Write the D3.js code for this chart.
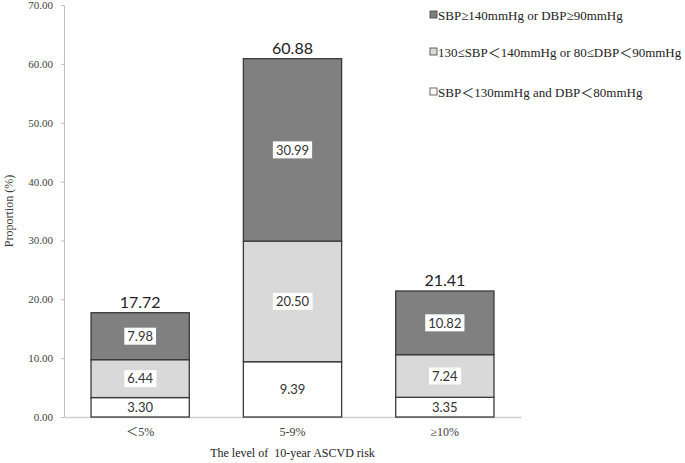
<!DOCTYPE html>
<html><head><meta charset="utf-8">
<script src="https://cdn.jsdelivr.net/npm/d3@7"></script>
<style>body{margin:0;background:#fff}svg{display:block}</style>
</head><body>
<svg id="c" width="685" height="463"></svg>
<script>
const categories = ["<5%", "5-9%", "\u226510%"];
const categoryLabels = ["\uFF1C5%", "5-9%", "\u226510%"];
const normal = [3.30, 9.39, 3.35];
const elevated = [6.44, 20.50, 7.24];
const high = [7.98, 30.99, 10.82];
const totals = [17.72, 60.88, 21.41];
const seriesNames = ["SBP\u2265140mmHg or DBP\u226590mmHg", "130\u2264SBP\uFF1C140mmHg or 80\u2264DBP\uFF1C90mmHg", "SBP\uFF1C130mmHg and DBP\uFF1C80mmHg"];
const yTicks = [0, 10, 20, 30, 40, 50, 60, 70];

const svg = d3.select("#c");
const serif = "'Liberation Serif','Noto Sans CJK SC',serif";
const sans = "Lato,'Open Sans',sans-serif";
const x0 = 64, x1 = 521, yb = 417, yt = 5;
const x = d3.scaleBand().domain(categories).range([x0, x1]).paddingInner(0.355).paddingOuter(0.1775);
const y = d3.scaleLinear().domain([0, 70]).range([yb, yt]);

const rows = categories.map((c, i) => ({c, segs: [
  {k: 0, v0: 0, v1: normal[i], v: normal[i], fill: "#ffffff"},
  {k: 1, v0: normal[i], v1: normal[i] + elevated[i], v: elevated[i], fill: "#d9d9d9"},
  {k: 2, v0: normal[i] + elevated[i], v1: normal[i] + elevated[i] + high[i], v: high[i], fill: "#808080"}
], total: totals[i]}));

// y axis
const ya = svg.append("g").attr("transform", `translate(${x0},0)`)
  .call(d3.axisLeft(y).tickValues(yTicks).tickFormat(d3.format(".2f")).tickSize(3).tickSizeOuter(0));
ya.select(".domain").attr("stroke", "#bfbfbf");
ya.selectAll(".tick line").attr("stroke", "#bfbfbf");
ya.selectAll(".tick text").attr("font-family", serif).attr("font-size", 11).attr("fill", "#404040").attr("x", -11);

// x axis
const xa = svg.append("g").attr("transform", `translate(0,${yb})`)
  .call(d3.axisBottom(x).tickSize(0).tickSizeOuter(0).tickFormat((d, i) => categoryLabels[i]));
xa.select(".domain").attr("stroke", "#d0d0d0").attr("stroke-width", 1.5);
xa.selectAll(".tick text").attr("font-family", serif).attr("font-size", 12).attr("fill", "#404040").attr("dy", 0).attr("y", 19);

// bars
const g = svg.append("g");
rows.forEach(r => {
  r.segs.forEach(s => {
    g.append("rect").attr("x", x(r.c)).attr("width", x.bandwidth())
      .attr("y", y(s.v1)).attr("height", y(s.v0) - y(s.v1))
      .attr("fill", s.fill).attr("stroke", "#3a3a3a").attr("stroke-width", 1.3);
  });
});
// labels
rows.forEach(r => {
  const cx = x(r.c) + x.bandwidth() / 2;
  r.segs.forEach(s => {
    const cy = (y(s.v0) + y(s.v1)) / 2;
    const t = g.append("text").attr("x", cx).attr("y", cy).attr("dy", "0.36em")
      .attr("text-anchor", "middle").attr("font-family", sans).attr("font-size", 13).attr("fill", "#333")
      .text(d3.format(".2f")(s.v));
    if (s.k > 0) {
      const bb = t.node().getBBox();
      g.insert("rect", () => t.node()).attr("x", bb.x - 3).attr("y", cy - 8.5).attr("width", bb.width + 6).attr("height", 17).attr("fill", "#fff");
    }
  });
  g.append("text").attr("x", cx).attr("y", y(r.total) - 5).attr("text-anchor", "middle")
    .attr("font-family", sans).attr("font-size", 16).attr("fill", "#222").text(d3.format(".2f")(r.total));
});

// axis titles
svg.append("text").attr("transform", `translate(13,${(yt + yb) / 2}) rotate(-90)`).attr("text-anchor", "middle")
  .attr("font-family", serif).attr("font-size", 12).attr("fill", "#404040").text("Proportion (%)");
svg.append("text").attr("x", (x0 + x1) / 2).attr("y", 457).attr("text-anchor", "middle")
  .style("white-space", "pre")
  .attr("font-family", serif).attr("font-size", 12).attr("fill", "#222").text("The level of  10-year ASCVD risk");

// legend
const legFills = ["#808080", "#d9d9d9", "#ffffff"];
const legY = [15, 52, 92];
seriesNames.forEach((n, i) => {
  svg.append("rect").attr("x", 430).attr("y", legY[i] - 4).attr("width", 7).attr("height", 7)
    .attr("fill", legFills[i]).attr("stroke", "#404040").attr("stroke-width", 0.8);
  svg.append("text").attr("x", 438).attr("y", legY[i]).attr("dy", "0.35em")
    .attr("font-family", serif).attr("font-size", 13).attr("fill", "#222").text(n);
});
</script>
</body></html>
